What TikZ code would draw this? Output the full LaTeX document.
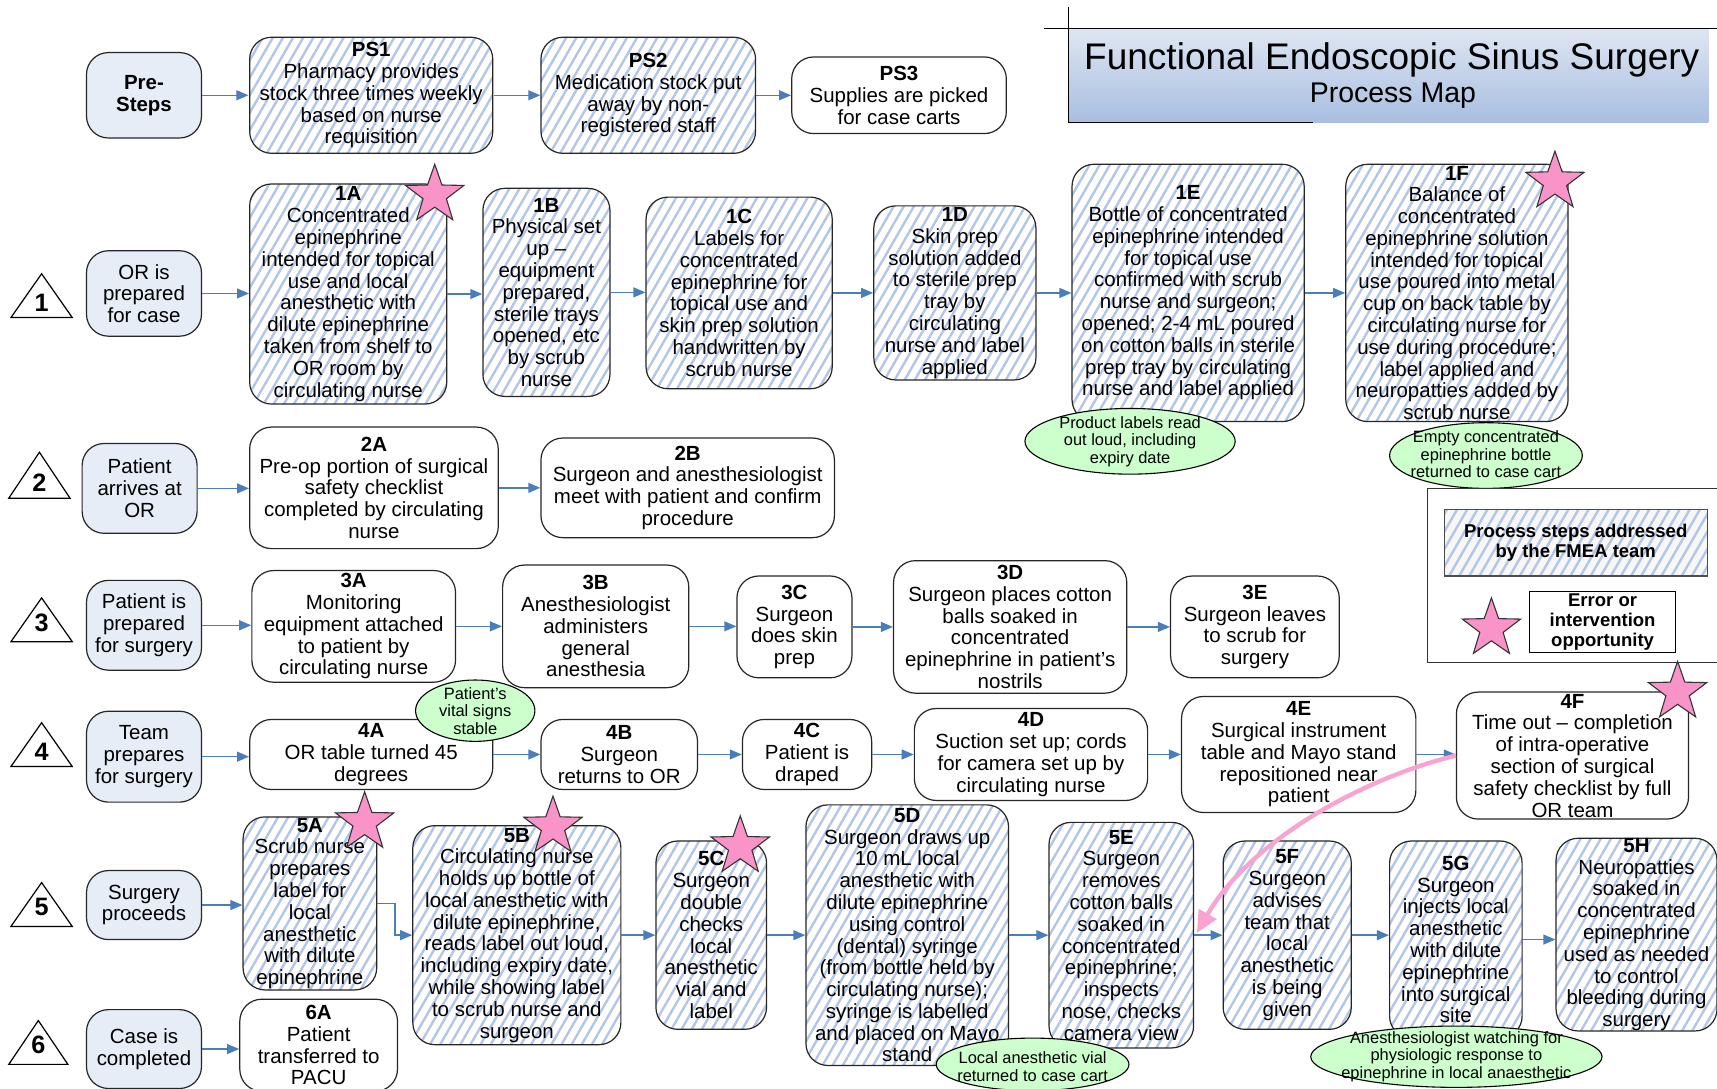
\documentclass[tikz,border=0pt]{standalone}
\usepackage{fontspec}
\setmainfont{Liberation Sans}
\usetikzlibrary{shapes.geometric,arrows.meta,patterns.meta}
\definecolor{arrowblue}{HTML}{4A7EBB}
\definecolor{hatch}{HTML}{B3C6E5}
\definecolor{sidefill}{HTML}{E6EDF7}
\definecolor{notegreen}{HTML}{CCFFCC}
\definecolor{starpink}{HTML}{F993C8}
\definecolor{curvepink}{HTML}{F9A3D0}
\definecolor{titletop}{HTML}{DEE6F2}
\definecolor{titlebot}{HTML}{A8BEE0}
\newcommand\stepfont{\fontsize{18.7}{19.9}\selectfont}
\newcommand\notefont{\fontsize{15}{16}\selectfont}
\newcommand\legfont{\bfseries\fontsize{16.9}{18}\selectfont}
\newcommand\trifont{\bfseries\fontsize{23}{23}\selectfont}
\tikzset{
  box/.style 2 args={draw=black!85, line width=1.1pt, rounded corners=20pt,
    minimum width=#1pt, minimum height=#2pt, inner sep=0pt, align=center, font=\stepfont},
  hatched/.style={pattern={Lines[angle=60,distance=8pt,line width=2.2pt]}, pattern color=hatch},
  side/.style={fill=sidefill},
  arr/.style={draw=arrowblue, line width=1.4pt, -{Triangle[length=11pt,width=9pt]}},
  pinkarr/.style={draw=curvepink, line width=4pt, -{Triangle[length=20pt,width=18pt]}},
  star5/.style={star, star points=5, star point ratio=2.5, minimum size=56pt, inner sep=0pt,
    fill=starpink, draw=black!80, line width=1pt},
  tri/.style={draw=black, line width=1.1pt, fill=white},
  trinum/.style={font=\trifont, inner sep=0pt},
  notebg/.style={draw=black, line width=1pt, fill=notegreen},
  notetext/.style={font=\notefont, align=center, inner sep=0pt},
}
\begin{document}
\begin{tikzpicture}[x=1pt,y=-1pt]
\useasboundingbox (0,0) rectangle (1568,994);

% ---------- Title ----------
\shade[top color=titletop, bottom color=titlebot] (976,26) rectangle (1560,112);
\draw[line width=1.2pt] (953,26) -- (1568,26);
\draw[line width=1.2pt] (976,6) -- (976,112) -- (1199,112);
\node[font=\fontsize{33.8}{36}\selectfont, inner sep=0pt] (title) at (1271,55) {Functional Endoscopic Sinus Surgery};
\node[font=\fontsize{26}{28}\selectfont, inner sep=0pt] (subtitle) at (1272,87) {Process Map};

% ---------- Triangles ----------
\draw[tri] (38,250) -- (66,290) -- (10,290) -- cycle; \node[trinum] (t1) at (38,277) {1};
\draw[tri] (36,413) -- (64,455) -- (8,455) -- cycle;  \node[trinum] (t2) at (36,441) {2};
\draw[tri] (38,546) -- (66,586) -- (10,586) -- cycle; \node[trinum] (t3) at (38,569) {3};
\draw[tri] (38,660) -- (66,700) -- (10,700) -- cycle; \node[trinum] (t4) at (38,687) {4};
\draw[tri] (38,806) -- (66,846) -- (10,846) -- cycle; \node[trinum] (t5) at (38,828) {5};
\draw[tri] (35,932) -- (62,972) -- (8,972) -- cycle;  \node[trinum] (t6) at (35,954) {6};

% ---------- Pre-steps row ----------
\node[box={105}{78}, side, font=\stepfont\bfseries] (pre) at (131.5,87) {Pre-\\Steps};
\node[box={222}{106}, hatched] (ps1) at (339,87) {\textbf{PS1}\\Pharmacy provides\\stock three times weekly\\based on nurse\\requisition};
\node[box={196}{106}, hatched] (ps2) at (592,87) {\textbf{PS2}\\Medication stock put\\away by non-\\registered staff};
\node[box={196}{70}] (ps3) at (821,87) {\textbf{PS3}\\Supplies are picked\\for case carts};

% ---------- Row 1 ----------
\node[box={105}{78}, side] (s1) at (131.5,268) {OR is\\prepared\\for case};
\node[box={180}{201}, hatched] (n1A) at (318,268.5) {\textbf{1A}\\Concentrated\\epinephrine\\intended for topical\\use and local\\anesthetic with\\dilute epinephrine\\taken from shelf to\\OR room by\\circulating nurse};
\node[box={116}{190}, hatched] (n1B) at (499,267) {\textbf{1B}\\Physical set\\up --\\equipment\\prepared,\\sterile trays\\opened, etc\\by scrub\\nurse};
\node[box={170}{175}, hatched] (n1C) at (675,267.5) {\textbf{1C}\\Labels for\\concentrated\\epinephrine for\\topical use and\\skin prep solution\\handwritten by\\scrub nurse};
\node[box={148}{159}, hatched] (n1D) at (872,267.5) {\textbf{1D}\\Skin prep\\solution added\\to sterile prep\\tray by\\circulating\\nurse and label\\applied};
\node[box={212}{235}, hatched] (n1E) at (1085,267.5) {\textbf{1E}\\Bottle of concentrated\\epinephrine intended\\for topical use\\confirmed with scrub\\nurse and surgeon;\\opened; 2-4 mL poured\\on cotton balls in sterile\\prep tray by circulating\\nurse and label applied};
\node[box={203}{235}, hatched] (n1F) at (1330.5,267.5) {\textbf{1F}\\Balance of\\concentrated\\epinephrine solution\\intended for topical\\use poured into metal\\cup on back table by\\circulating nurse for\\use during procedure;\\label applied and\\neuropatties added by\\scrub nurse};

% ---------- Row 2 ----------
\node[box={105}{82}, side] (s2) at (127.5,446) {Patient\\arrives at\\OR};
\node[box={227}{111}] (n2A) at (341.5,445.5) {\textbf{2A}\\Pre-op portion of surgical\\safety checklist\\completed by circulating\\nurse};
\node[box={268}{91}] (n2B) at (628,445.5) {\textbf{2B}\\Surgeon and anesthesiologist\\meet with patient and confirm\\procedure};

% ---------- Row 3 ----------
\node[box={105}{82}, side] (s3) at (131.5,571) {Patient is\\prepared\\for surgery};
\node[box={186}{102}] (n3A) at (323,572) {\textbf{3A}\\Monitoring\\equipment attached\\to patient by\\circulating nurse};
\node[box={170}{112}] (n3B) at (544,572) {\textbf{3B}\\Anesthesiologist\\administers\\general\\anesthesia};
\node[box={105}{93}] (n3C) at (725.5,572.5) {\textbf{3C}\\Surgeon\\does skin\\prep};
\node[box={213}{121}] (n3D) at (922.5,572.5) {\textbf{3D}\\Surgeon places cotton\\balls soaked in\\concentrated\\epinephrine in patient’s\\nostrils};
\node[box={154}{93}] (n3E) at (1146,572.5) {\textbf{3E}\\Surgeon leaves\\to scrub for\\surgery};

% ---------- Row 4 ----------
\node[box={105}{83}, side] (s4) at (131.5,691) {Team\\prepares\\for surgery};
\node[box={222}{64}] (n4A) at (339,689) {\textbf{4A}\\OR table turned 45\\degrees};
\node[box={143}{64}] (n4B) at (565.5,689) {\textbf{4B}\\Surgeon\\returns to OR};
\node[box={118}{64}] (n4C) at (737,689) {\textbf{4C}\\Patient is\\draped};
\node[box={213}{84}] (n4D) at (941.5,689) {\textbf{4D}\\Suction set up; cords\\for camera set up by\\circulating nurse};
\node[box={214}{106}] (n4E) at (1186,689) {\textbf{4E}\\Surgical instrument\\table and Mayo stand\\repositioned near\\patient};
\node[box={212}{116}] (n4F) at (1436,690) {\textbf{4F}\\Time out -- completion\\of intra-operative\\section of surgical\\safety checklist by full\\OR team};

% ---------- Row 5 ----------
\node[box={105}{63}, side] (s5) at (131.5,826.5) {Surgery\\proceeds};
\node[box={122}{158}, hatched] (n5A) at (283,825) {\textbf{5A}\\Scrub nurse\\prepares\\label for\\local\\anesthetic\\with dilute\\epinephrine};
\node[box={190}{200}, hatched] (n5B) at (472,854) {\textbf{5B}\\Circulating nurse\\holds up bottle of\\local anesthetic with\\dilute epinephrine,\\reads label out loud,\\including expiry date,\\while showing label\\to scrub nurse and\\surgeon};
\node[box={101}{172}, hatched] (n5C) at (649.5,854) {\textbf{5C}\\Surgeon\\double\\checks\\local\\anesthetic\\vial and\\label};
\node[box={185}{238}, hatched] (n5D) at (828.5,854) {\textbf{5D}\\Surgeon draws up\\10 mL local\\anesthetic with\\dilute epinephrine\\using control\\(dental) syringe\\(from bottle held by\\circulating nurse);\\syringe is labelled\\and placed on Mayo\\stand};
\node[box={132}{206}, hatched] (n5E) at (1024,854) {\textbf{5E}\\Surgeon\\removes\\cotton balls\\soaked in\\concentrated\\epinephrine;\\inspects\\nose, checks\\camera view};
\node[box={117}{172}, hatched] (n5F) at (1175.5,854) {\textbf{5F}\\Surgeon\\advises\\team that\\local\\anesthetic\\is being\\given};
\node[box={121}{180}, hatched] (n5G) at (1329.5,858) {\textbf{5G}\\Surgeon\\injects local\\anesthetic\\with dilute\\epinephrine\\into surgical\\site};
\node[box={147}{175}, hatched] (n5H) at (1494.5,853.5) {\textbf{5H}\\Neuropatties\\soaked in\\concentrated\\epinephrine\\used as needed\\to control\\bleeding during\\surgery};

% ---------- Row 6 ----------
\node[box={105}{72}, side] (s6) at (131.5,958) {Case is\\completed};
\node[box={144}{84}] (n6A) at (291,954.5) {\textbf{6A}\\Patient\\transferred to\\PACU};

% ---------- Connectors ----------
\draw[arr] (pre.east) -- (pre.east -| ps1.west);
\draw[arr] (ps1.east) -- (ps1.east -| ps2.west);
\draw[arr] (ps2.east) -- (ps2.east -| ps3.west);

\draw[arr] (s1.east) -- (s1.east -| n1A.west);
\draw[arr] (n1A.east) -- (n1A.east -| n1B.west);
\draw[arr] (n1B.east) -- (n1B.east -| n1C.west);
\draw[arr] (n1C.east) -- (n1C.east -| n1D.west);
\draw[arr] (n1D.east) -- (n1D.east -| n1E.west);
\draw[arr] (n1E.east) -- (n1E.east -| n1F.west);

\draw[arr] (s2.east) -- (s2.east -| n2A.west);
\draw[arr] (n2A.east) -- (n2A.east -| n2B.west);

\draw[arr] (s3.east) -- (s3.east -| n3A.west);
\draw[arr] (n3A.east) -- (n3A.east -| n3B.west);
\draw[arr] (n3B.east) -- (n3B.east -| n3C.west);
\draw[arr] (n3C.east) -- (n3C.east -| n3D.west);
\draw[arr] (n3D.east) -- (n3D.east -| n3E.west);

\draw[arr] (s4.east) -- (s4.east -| n4A.west);
\draw[arr] (n4A.east) -- (n4A.east -| n4B.west);
\draw[arr] (n4B.east) -- (n4B.east -| n4C.west);
\draw[arr] (n4C.east) -- (n4C.east -| n4D.west);
\draw[arr] (n4D.east) -- (n4D.east -| n4E.west);
\draw[arr] (n4E.east) -- (n4E.east -| n4F.west);

\draw[arr] (s5.east) -- (s5.east -| n5A.west);
\draw[arr] (n5A.east) -- ++(16,0) |- (n5B.west);
\draw[arr] (n5B.east) -- (n5B.east -| n5C.west);
\draw[arr] (n5C.east) -- (n5C.east -| n5D.west);
\draw[arr] (n5D.east) -- (n5D.east -| n5E.west);
\draw[arr] (n5E.east) -- (n5E.east -| n5F.west);
\draw[arr] (n5F.east) -- (n5F.east -| n5G.west);
\draw[arr] (n5G.east) -- (n5G.east -| n5H.west);

\draw[arr] (s6.east) -- (s6.east -| n6A.west);

% ---------- Notes ----------
\draw[notebg] (1032,403) ellipse [x radius=96, y radius=30];
\node[notetext] (e1) at (1032,403) {Product labels read\\out loud, including\\expiry date};
\draw[notebg] (1357,416) ellipse [x radius=88, y radius=30];
\node[notetext] (e2) at (1357,415) {Empty concentrated\\epinephrine bottle\\returned to case cart};
\draw[notebg] (434,649) ellipse [x radius=54.5, y radius=28];
\node[notetext] (e3) at (434,649) {Patient’s\\vital signs\\stable};
\draw[notebg] (943,972) ellipse [x radius=88, y radius=24];
\node[notetext] (e4) at (943,974) {Local anesthetic vial\\returned to case cart};
\draw[notebg] (1330,965) ellipse [x radius=133, y radius=28];
\node[notetext] (e5) at (1330,965) {Anesthesiologist watching for\\physiologic response to\\epinephrine in local anaesthetic};

% ---------- Pink curved arrow ----------
\coordinate (pinkend) at (1093,852);
\draw[pinkarr] (n4F.west) .. controls (1240,712) and (1140,770) .. (pinkend);

% ---------- Stars ----------
\node[star5] (st1A) at (397,178) {};
\node[star5] (st1F) at (1420,166) {};
\node[star5] (st4F) at (1532,632) {};
\node[star5] (st5A) at (333,751) {};
\node[star5] (st5B) at (505,755) {};
\node[star5] (st5C) at (676,773) {};

% ---------- Legend ----------
\draw[line width=1pt, draw=black!80] (1580,446) -- (1304,446) -- (1304,605) -- (1580,605);
\node[draw=black!70, line width=1pt, preaction={fill=black!3}, hatched, minimum width=240pt, minimum height=61pt,
  inner sep=0pt, font=\legfont, align=center] (legA) at (1439,495.5) {Process steps addressed\\by the FMEA team};
\node[star5] (legstar) at (1362,574) {};
\node[draw=black, line width=1pt, fill=white, minimum width=133pt, minimum height=56pt,
  inner sep=0pt, font=\legfont, align=center] (legB) at (1463.5,568) {Error or\\intervention\\opportunity};
\end{tikzpicture}
\end{document}
